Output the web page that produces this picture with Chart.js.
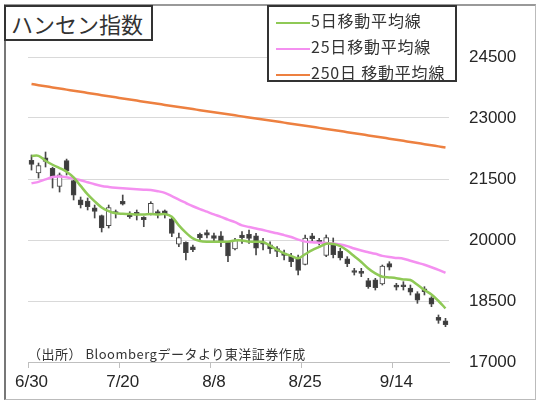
<!DOCTYPE html>
<html>
<head>
    <meta charset="utf-8">
    <title>ハンセン指数</title>
    <script src="https://cdn.jsdelivr.net/npm/chart.js"></script>
    <style>
        body { margin: 0; background: #fff; }
        #wrap { position: relative; width: 540px; height: 405px; font-family: "Noto Sans CJK JP", sans-serif; color: #333; }
        #frame { position: absolute; left: 4px; top: 4px; width: 529px; height: 393px;
                 border-left: 2px solid #777; border-top: 2px solid #999; border-right: 1px solid #bbb; border-bottom: 1px solid #bbb; }
        #title { position: absolute; left: 4px; top: 5px; width: 140px; height: 32px; border: 2px solid #333;
                 background: #fff; font-size: 22px; line-height: 32px; padding-left: 5px; box-sizing: content-box; }
        #legend { position: absolute; left: 267px; top: 5px; width: 186px; height: 73px; border: 2px solid #333; background: #fff; }
        .row { position: absolute; left: 7px; height: 26px; font-size: 16px; line-height: 26px; white-space: nowrap; letter-spacing: 0.8px; }
        .row span { display: inline-block; width: 34px; height: 2px; vertical-align: middle; margin-right: 1px; }
        #note { position: absolute; left: 28px; top: 345px; font-size: 13px; line-height: 18px; letter-spacing: 0.5px; }
    </style>
</head>
<body>
<div id="wrap">
    <canvas id="chart" width="540" height="405"></canvas>
    <div id="frame"></div>
    <div id="title">ハンセン指数</div>
    <div id="legend"></div>
    <div id="note">（出所） Bloombergデータより東洋証券作成</div>
</div>

<script>
    // trading days (9/12 was a holiday)
    const dates = ['6/30','7/4','7/5','7/6','7/7','7/8','7/11','7/12','7/13','7/14','7/15',
        '7/18','7/19','7/20','7/21','7/22','7/25','7/26','7/27','7/28','7/29',
        '8/1','8/2','8/3','8/4','8/5','8/8','8/9','8/10','8/11','8/12',
        '8/15','8/16','8/17','8/18','8/19','8/22','8/23','8/24','8/25','8/26',
        '8/29','8/30','8/31','9/1','9/2','9/5','9/6','9/7','9/8','9/9',
        '9/13','9/14','9/15','9/16','9/19','9/20','9/21','9/22','9/23'];
    const tickLabels = ['6/30', '7/20', '8/8', '8/25', '9/14'];

    const opens  = [21960,21650,22020,21760,21320,21950,21460,20990,20960,20790,20600,
        20350,20700,20950,20650,20680,20560,20630,20700,20720,20520,
        19900,19940,19830,20140,20180,20110,20100,19940,19780,20120,
        20140,20100,19950,19880,19790,19680,19600,19560,19400,20100,
        19990,19620,19920,19720,19540,19250,19230,19000,19020,18920,
        19420,18890,18900,18820,18680,18800,18580,18100,18010];
    const highs  = [22090,21893,22164,21790,21648,21990,21475,21057,21033,20860,20614,
        20860,20738,21106,20696,20738,20574,20942,20738,20738,20541,
        20172,19958,19877,20172,20246,20172,20204,19958,20040,20204,
        20246,20163,20040,19958,19836,19754,19672,19631,20123,20163,
        20040,20123,20050,19795,19590,19303,19303,19057,19057,19385,
        19467,18935,18975,18893,18729,18852,18606,18156,18074];
    const lows   = [21720,21524,21795,21279,21180,21598,20984,20787,20738,20541,20197,
        20295,20541,20860,20533,20492,20327,20615,20541,20541,20081,
        19836,19508,19712,19958,20049,19958,19836,19467,19754,19918,
        19918,19631,19754,19672,19590,19508,19344,19139,19385,19958,
        19877,19590,19560,19508,19344,19139,19098,18811,18770,18893,
        19262,18770,18770,18648,18443,18648,18360,17951,17869];
    const closes = [21860,21830,21930,21560,21600,21700,21100,20860,20820,20700,20300,
        20800,20660,20880,20575,20610,20500,20900,20650,20620,20160,
        20060,19690,19760,20060,20120,20040,19980,19610,20000,20060,
        20040,19800,19900,19780,19720,19620,19470,19250,20050,20030,
        19930,20060,19640,19560,19420,19200,19180,18850,18830,19360,
        19330,18840,18850,18720,18520,18730,18420,18020,17920];

    const ma5 = [22066,22070,21950,21850,21770,21680,21540,21330,21120,20950,20800,
        20710,20656,20645,20640,20630,20630,20640,20630,20640,20574,
        20360,20180,20040,19975,19958,19960,19958,19960,19990,19990,
        19960,19958,19950,19860,19760,19672,19610,19549,19650,19750,
        19830,19910,19900,19850,19740,19600,19460,19300,19180,19098,
        19080,19060,19030,19016,18900,18770,18660,18500,18320];
    const ma25 = [21394,21430,21490,21550,21560,21545,21510,21470,21420,21370,21330,
        21305,21285,21270,21258,21245,21235,21228,21200,21160,21080,
        20990,20910,20830,20760,20696,20630,20570,20500,20440,20360,
        20320,20285,20245,20205,20165,20120,20075,20010,19960,19945,
        19935,19925,19915,19890,19850,19790,19740,19700,19660,19610,
        19580,19560,19540,19490,19440,19390,19330,19265,19190];
    const ma250 = [23836,23808,23781,23752,23726,23698,23671,23644,23617,23590,23562,
        23536,23508,23481,23455,23428,23401,23375,23349,23322,23296,
        23270,23245,23219,23193,23168,23142,23116,23091,23065,23040,
        23014,22989,22963,22938,22912,22886,22861,22835,22809,22783,
        22757,22731,22705,22679,22652,22626,22599,22572,22546,22519,
        22492,22465,22438,22411,22384,22357,22330,22302,22275];

    const seriesNames = ['5日移動平均線', '25日移動平均線', '250日 移動平均線'];

    const wicks = dates.map((d, i) => [lows[i], highs[i]]);
    const bodies = dates.map((d, i) => [Math.min(opens[i], closes[i]), Math.max(opens[i], closes[i])]);
    const bodyColors = dates.map((d, i) => closes[i] >= opens[i] ? '#ffffff' : '#3c3c3c');

    const ctx = document.getElementById('chart').getContext('2d');
    const chart = new Chart(ctx, {
        type: 'bar',
        data: {
            labels: dates,
            datasets: [{
                type: 'line', label: seriesNames[0], data: ma5,
                borderColor: '#8fc956', borderWidth: 2.5, pointRadius: 0, tension: 0.3, order: 1
            }, {
                type: 'line', label: seriesNames[1], data: ma25,
                borderColor: '#f490f0', borderWidth: 2.5, pointRadius: 0, tension: 0.3, order: 1
            }, {
                type: 'line', label: seriesNames[2], data: ma250,
                borderColor: '#ed8040', borderWidth: 2.5, pointRadius: 0, tension: 0.3, order: 1
            }, {
                label: 'body', data: bodies, backgroundColor: bodyColors,
                borderColor: '#484848', borderWidth: 1, borderSkipped: false,
                barThickness: 5, grouped: false, order: 2
            }, {
                label: 'wick', data: wicks, backgroundColor: '#484848',
                barThickness: 1, grouped: false, order: 3
            }]
        },
        options: {
            responsive: false,
            animation: false,
            layout: { padding: { left: 28, top: 57, right: 0, bottom: 0 } },
            plugins: { legend: { display: false }, tooltip: { enabled: false } },
            scales: {
                x: {
                    afterFit: s => { s.height = 43; },
                    grid: {
                        drawOnChartArea: false, tickLength: 6,
                        color: c => (c.tick && tickLabels.includes(dates[c.tick.value])) ? '#bfbfbf' : 'rgba(0,0,0,0)'
                    },
                    border: { color: '#bfbfbf' },
                    ticks: {
                        autoSkip: false, maxRotation: 0, padding: 4,
                        color: '#262626', font: { family: 'Liberation Sans', size: 17 },
                        callback: (v, i) => tickLabels.includes(dates[i]) ? dates[i] : ''
                    }
                },
                y: {
                    position: 'right',
                    min: 17000, max: 24500,
                    afterFit: s => { s.width = 91; },
                    grid: { color: '#d9d9d9', drawTicks: false },
                    border: { display: false },
                    ticks: {
                        stepSize: 1500, padding: 20,
                        color: '#262626', font: { family: 'Liberation Sans', size: 17 },
                        callback: v => String(v)
                    }
                }
            }
        }
    });

    // legend box built from the line datasets
    const legend = document.getElementById('legend');
    chart.data.datasets.filter(d => d.type === 'line').forEach((d, i) => {
        const row = document.createElement('div');
        row.className = 'row';
        row.style.top = (i * 26) + 'px';
        row.innerHTML = '<span style="background:' + d.borderColor + '"></span>' + d.label;
        legend.appendChild(row);
    });
</script>
</body>
</html>
